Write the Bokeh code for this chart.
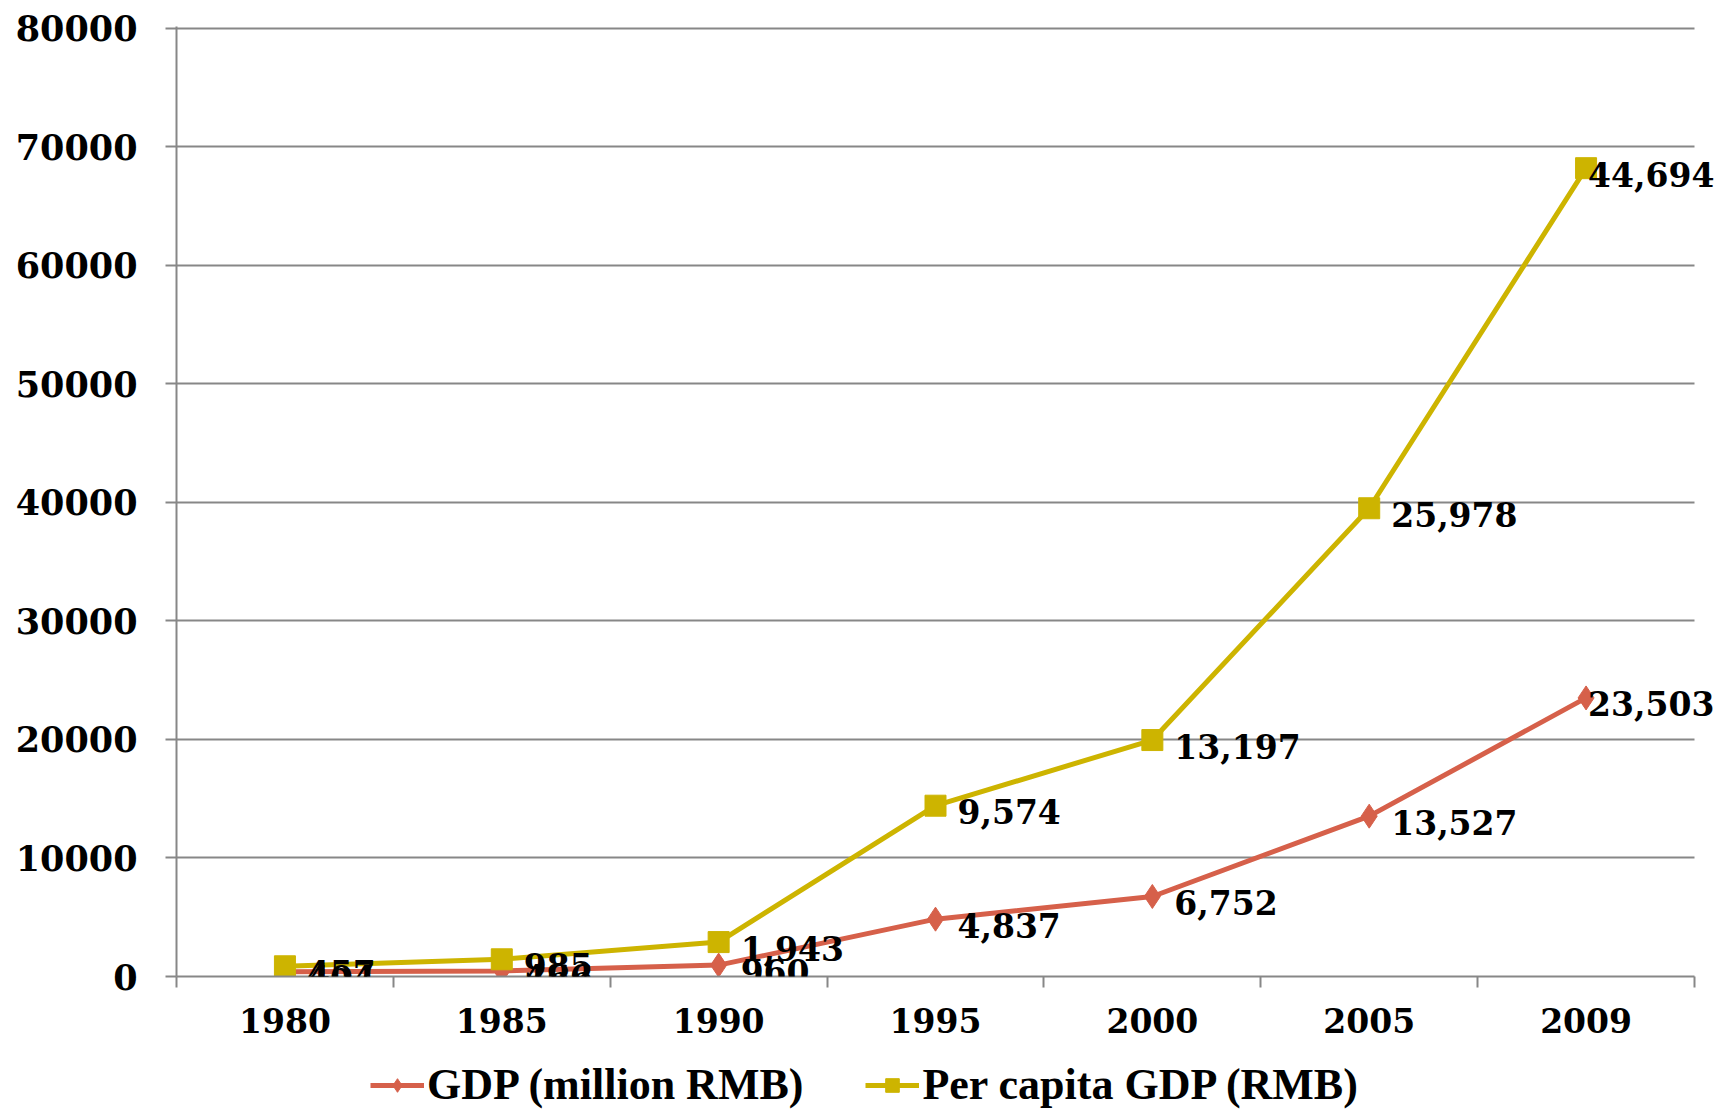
import numpy as np
from bokeh.plotting import figure
from bokeh.layouts import column
from bokeh.models import (ColumnDataSource, Range1d, FixedTicker, SingleIntervalTicker,
                          Legend, LegendItem, LabelSet, BoxAnnotation)
from bokeh.core.properties import value
from bokeh.embed import file_html
from bokeh.resources import INLINE

years = ["1980", "1985", "1990", "1995", "2000", "2005", "2009"]
gdp = [404, 466, 960, 4837, 6752, 13527, 23503]
per_capita = [457, 985, 1943, 9574, 13197, 25978, 44694]

RED = "#D6604A"
YEL = "#CDB400"
GRID = "#878787"
NUMFONT = "DejaVu Serif"

n = len(years)
x = np.arange(n) + 0.5
gdp_arr = np.array(gdp, dtype=float)
stack_arr = gdp_arr + np.array(per_capita, dtype=float)  # stacked line chart
xoff = [22] * (n - 1) + [2]

src_gdp = ColumnDataSource(dict(x=x, y=gdp_arr, lab=[f"{v:,}" for v in gdp], xo=xoff))
src_pc = ColumnDataSource(dict(x=x, y=stack_arr, lab=[f"{v:,}" for v in per_capita], xo=xoff))

# frame runs to the page edge so the last labels are not clipped;
# the category area (and its grid) ends earlier
GRID_W = 1518
FRAME_W = 1730 - 176
x_end = n * FRAME_W / GRID_W

p = figure(width=1730, height=1048, output_backend="svg", toolbar_location=None,
           x_range=Range1d(0, x_end), y_range=Range1d(0, 80150),
           min_border_left=176, min_border_right=0, min_border_top=26,
           min_border_bottom=72)
p.outline_line_color = None
p.background_fill_color = "white"
p.border_fill_color = "white"

# x axis
p.xaxis.bounds = (0, n)
p.xaxis.ticker = FixedTicker(ticks=list(x), minor_ticks=list(range(n + 1)))
p.xaxis.major_label_overrides = {float(xx): y for xx, y in zip(x, years)}
p.xaxis.major_tick_out = 0
p.xaxis.major_tick_in = 0
p.xaxis.minor_tick_out = 11
p.xaxis.minor_tick_in = 0
p.xaxis.minor_tick_line_color = GRID
p.xaxis.minor_tick_line_width = 2
p.xaxis.axis_line_color = GRID
p.xaxis.axis_line_width = 2
p.xaxis.major_label_standoff = 20
p.xaxis.major_label_text_font = NUMFONT
p.xaxis.major_label_text_font_style = "bold"
p.xaxis.major_label_text_font_size = "33px"
p.xaxis.major_label_text_color = "black"

# y axis
p.yaxis.ticker = SingleIntervalTicker(interval=10000)
p.yaxis.minor_tick_line_color = None
p.yaxis.major_tick_out = 11
p.yaxis.major_tick_in = 0
p.yaxis.major_tick_line_color = GRID
p.yaxis.major_tick_line_width = 2
p.yaxis.axis_line_color = GRID
p.yaxis.axis_line_width = 2
p.yaxis.major_label_standoff = 28
p.yaxis.major_label_text_font = NUMFONT
p.yaxis.major_label_text_font_style = "bold"
p.yaxis.major_label_text_font_size = "35px"
p.yaxis.major_label_text_color = "black"

p.xgrid.grid_line_color = None
p.ygrid.grid_line_color = GRID
p.ygrid.grid_line_width = 2

# hide the grid past the last category
p.add_layout(BoxAnnotation(left=n, fill_color="white", fill_alpha=1,
                           line_color=None, level="underlay"))

# lines
p.line("x", "y", source=src_gdp, line_color=RED, line_width=5)
p.scatter("x", "y", source=src_gdp, marker="diamond", size=24, fill_color=RED,
          line_color=RED)
p.line("x", "y", source=src_pc, line_color=YEL, line_width=5)
p.scatter("x", "y", source=src_pc, marker="square", size=21, fill_color=YEL,
          line_color=YEL)

for s in (src_gdp, src_pc):
    p.add_layout(LabelSet(x="x", y="y", text="lab", source=s, x_offset="xo", y_offset=-6,
                          text_font=value(NUMFONT), text_font_style="bold",
                          text_font_size=value("33px"),
                          text_color="black", text_baseline="middle", text_align="left"))

# legend strip below the chart (its glyphs lie outside the strip's visible range)
lg = figure(width=1730, height=62, output_backend="svg", toolbar_location=None,
            x_range=Range1d(100, 101), y_range=Range1d(0, 1),
            min_border=0, outline_line_color=None)
lg.axis.visible = False
lg.grid.visible = False
lg.background_fill_color = "white"
lg.border_fill_color = "white"
a1 = lg.line("x", "y", source=src_gdp, line_color=RED, line_width=5)
b1 = lg.scatter("x", "y", source=src_gdp, marker="diamond", size=30, fill_color=RED,
                line_color=RED)
a2 = lg.line("x", "y", source=src_pc, line_color=YEL, line_width=5)
b2 = lg.scatter("x", "y", source=src_pc, marker="square", size=22, fill_color=YEL,
                line_color=YEL)

legend = Legend(items=[LegendItem(label="GDP (million RMB)", renderers=[a1, b1]),
                       LegendItem(label="Per capita GDP (RMB)", renderers=[a2, b2])],
                orientation="horizontal", location=(194, 0),
                label_text_font="Liberation Serif", label_text_font_style="bold",
                label_text_font_size="44px", label_text_color="black",
                glyph_width=54, glyph_height=34, label_standoff=3, spacing=62,
                border_line_color=None, background_fill_alpha=0, padding=0, margin=0)
lg.add_layout(legend)

layout = column(p, lg, spacing=0)
open("out.html", "w").write(file_html(layout, INLINE))
